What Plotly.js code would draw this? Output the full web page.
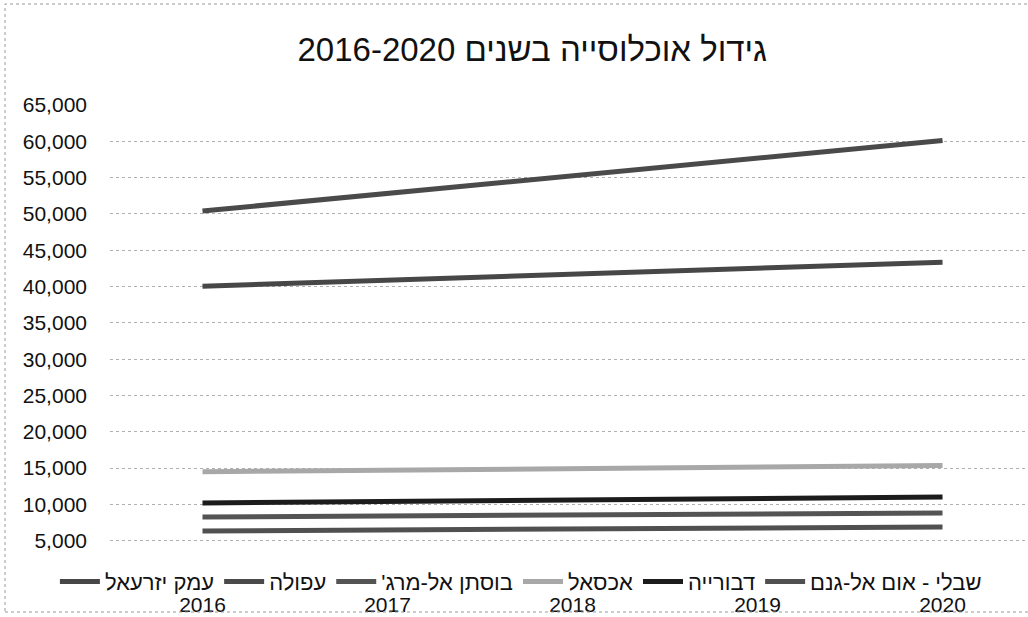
<!DOCTYPE html>
<html>
<head>
<meta charset="utf-8">
<script src="https://cdn.plot.ly/plotly-3.0.1.min.js"></script>
<style>
  html, body { margin: 0; padding: 0; background: #fff; }
  #chart { width: 1028px; height: 617px; }
</style>
</head>
<body>
<div id="chart"></div>
<script>
// Categories (years)
const years = ['2016', '2017', '2018', '2019', '2020'];

// Series names (legend order, left to right as in the reference)
const nameEmek = 'עמק יזרעאל';
const nameAfula = 'עפולה';
const nameBustan = "בוסתן אל-מרג'\u200F";
const nameIksal = 'אכסאל';
const nameDabburiya = 'דבורייה';
const nameShibli = 'שבלי - אום אל-גנם';

// Series values (population)
const afula     = [50400, 52800, 55300, 57700, 60100];
const emek      = [40050, 40900, 41700, 42500, 43350];
const iksal     = [14500, 14700, 14900, 15150, 15350];
const dabburiya = [10200, 10400, 10600, 10800, 11000];
const bustan    = [8260, 8400, 8550, 8700, 8820];
const shibli    = [6340, 6480, 6620, 6760, 6890];

// Y tick values / labels
const yTickVals = [0, 5000, 10000, 15000, 20000, 25000, 30000, 35000, 40000, 45000, 50000, 55000, 60000, 65000];
const yTickText = ['', '5,000', '10,000', '15,000', '20,000', '25,000', '30,000', '35,000', '40,000', '45,000', '50,000', '55,000', '60,000', '65,000'];

const titleText = 'גידול אוכלוסייה בשנים 2016-2020';

function tr(name, vals, color) {
  return {
    type: 'scatter', mode: 'lines', x: years, y: vals, name: name,
    line: { color: color, width: 5 },
    hoverinfo: 'skip'
  };
}

const data = [
  tr(nameEmek, emek, '#474747'),
  tr(nameAfula, afula, '#4a4a4a'),
  tr(nameBustan, bustan, '#545454'),
  tr(nameIksal, iksal, '#a8a8a8'),
  tr(nameDabburiya, dabburiya, '#1c1c1c'),
  tr(nameShibli, shibli, '#505050')
];

const font = 'Liberation Sans, Arial, sans-serif';

const layout = {
  width: 1028, height: 617,
  paper_bgcolor: '#ffffff', plot_bgcolor: '#ffffff',
  margin: { l: 110, r: 0, t: 105, b: 40 },
  font: { family: font, color: '#111', size: 21 },
  title: {
    text: titleText,
    font: { family: font, size: 33, color: '#111' },
    x: 0.46, xanchor: 'center', xref: 'paper',
    y: 0.92, yanchor: 'middle', yref: 'container'
  },
  xaxis: {
    type: 'category', range: [-0.5, 4.462],
    showgrid: false, zeroline: false, showline: false, ticks: '',
    tickfont: { family: font, size: 21, color: '#111' },
    ticklabelstandoff: 13
  },
  yaxis: {
    range: [0, 65000], tickmode: 'array', tickvals: yTickVals, ticktext: yTickText,
    showgrid: true, gridcolor: '#b0b0b0', griddash: 'dot', gridwidth: 1,
    zeroline: false, showline: false, ticks: '',
    tickfont: { family: font, size: 21, color: '#111' },
    ticklabelstandoff: 22
  },
  showlegend: true,
  legend: {
    orientation: 'h', x: -0.06, xanchor: 'left', y: -0.01, yanchor: 'middle',
    bgcolor: 'rgba(0,0,0,0)', font: { family: font, size: 22, color: '#111' },
    itemwidth: 40, tracegroupgap: 0, traceorder: 'normal'
  },
  shapes: [{
    type: 'rect', xref: 'paper', yref: 'paper',
    x0: (5 - 110) / 918, x1: (1040 - 110) / 918,
    y0: (577 - 612) / 472, y1: (577 - 4) / 472,
    line: { color: '#999', width: 1, dash: 'dot' }
  }]
};

Plotly.newPlot('chart', data, layout, { displayModeBar: false, staticPlot: true });
</script>
</body>
</html>
